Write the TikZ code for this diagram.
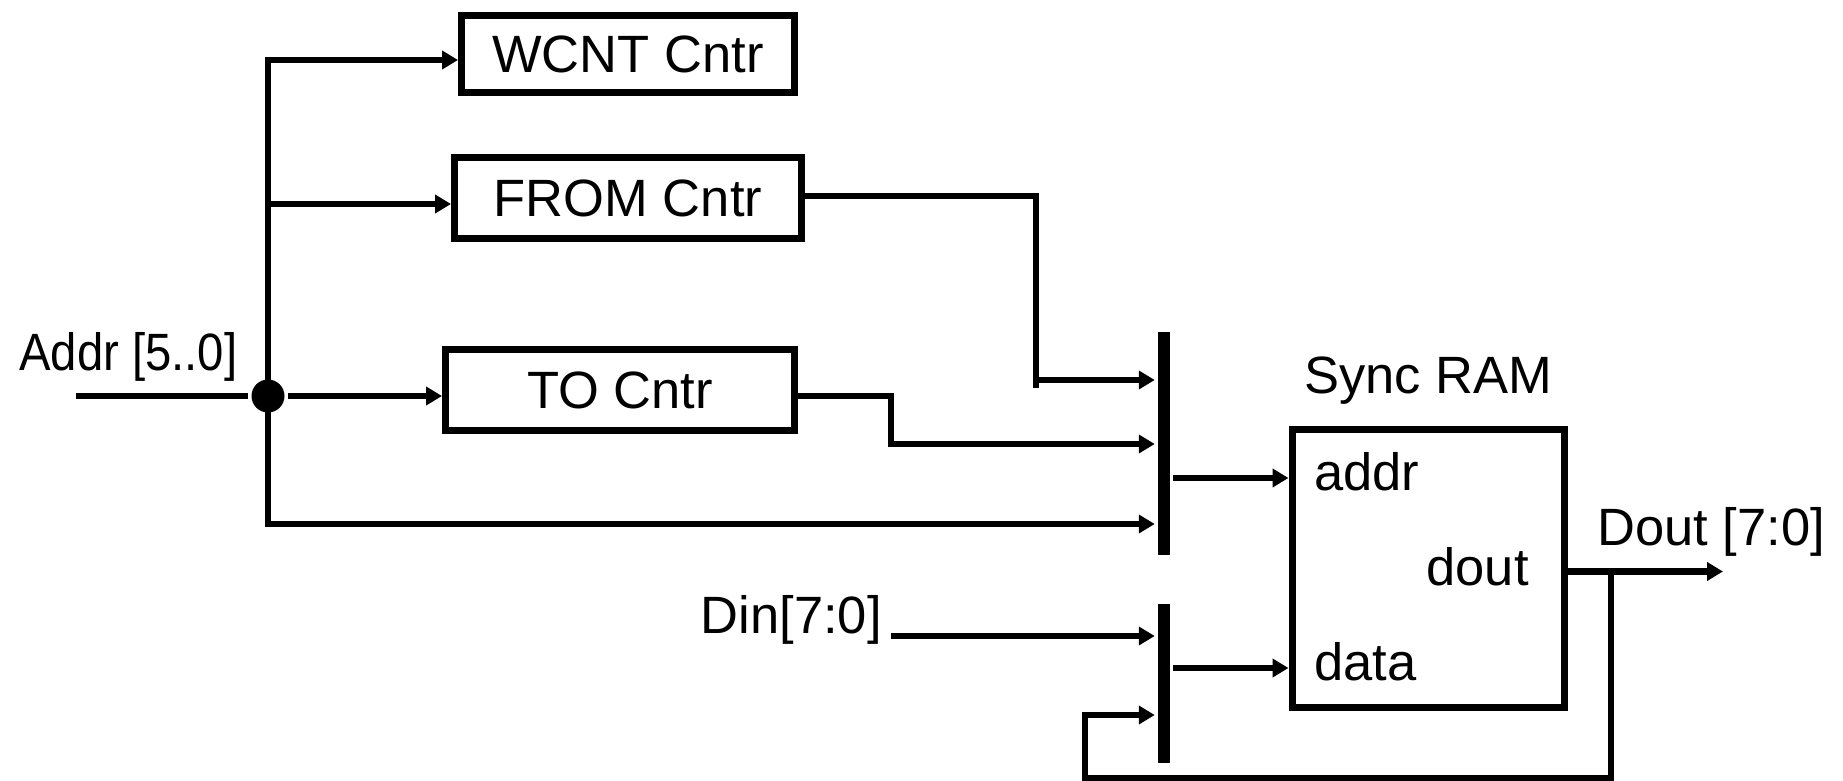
\documentclass[tikz,border=0pt]{standalone}
\usepackage{fontspec}
\setmainfont{Liberation Sans}
\usepackage{tikz}
\usetikzlibrary{positioning, arrows.meta, calc}

\begin{document}
\begin{tikzpicture}[x=1pt,y=-1pt,line width=6.5pt,
  >={Triangle[length=16pt,width=18pt]},
  every node/.style={font=\fontsize{52.5}{62}\selectfont,inner sep=0pt},
  cntr/.style={draw,line width=7pt,minimum height=81pt},
  bus/.style={fill=black,minimum width=12pt}]
  \useasboundingbox (0,0) rectangle (1843,781);
  % counters
  \node[cntr,minimum width=333pt,minimum height=77pt] (W) at (628,54) {WCNT Cntr};
  \node[cntr,minimum width=347pt] (F) at (628,198) {FROM Cntr};
  \node[cntr,minimum width=349pt] (T) at (620,390) {TO Cntr};
  \node[circle,fill,minimum size=33pt] (J) at (268,396) {};
  \node[anchor=base west,xscale=0.9,transform shape] (addr) at (16.5,370) {Addr [5..0]};
  % buses and ram
  \node[bus,minimum height=223pt] (BA) at (1164,443.5) {};
  \node[bus,minimum height=159pt] (BD) at (1164,683.5) {};
  \node[draw,line width=7pt,minimum width=272pt,minimum height=278pt] (RAM) at (1428,568) {};
  \node[anchor=base] (title) at (1428,393) {Sync RAM};
  \node[anchor=base west] (pa) at (1311,490) {addr};
  \node[anchor=base west] (pd) at (1311,680) {data};
  \node[anchor=base east] (po) at (1532,585) {dout};
  \node[anchor=base west] (dout) at (1594,545) {Dout [7:0]};
  \node[anchor=base east] (din) at (885,633) {Din[7:0]};
  \coordinate (ain) at (76,396);
  \coordinate (fk) at (1036,380);
  \coordinate (tk) at (891,444);
  \coordinate (bk) at (268,524);
  \coordinate (dk) at (891,636);
  \coordinate (tap) at (1611,571.5);
  \coordinate (qend) at (1723,571.5);
  \coordinate (fbl) at (1085,778);
  \coordinate (fbt) at (1085,715);
  % wires
  \draw (ain) -- (J);
  \draw[->] (J.center) |- ([yshift=-6pt]W.west);
  \draw[->] (J.center) -- ([yshift=-6pt]F.west -| J) -- ([yshift=-6pt]F.west);
  \draw[->] (J) -- (J -| T.west);
  \draw[->] (J.center) -- (bk) -- (bk -| BA.west);
  \draw ([yshift=2pt]F.east) -| ([yshift=-8pt]fk);
  \draw[->] (fk) -- (fk -| BA.west);
  \draw[->] ([yshift=-6pt]T.east) -| (tk) -- (tk -| BA.west);
  \draw[->] (BA.east |- 0,478) -- ([yshift=90pt]RAM.west);
  \draw[->] (dk) -- (dk -| BD.west);
  \draw[->] (BD.east |- 0,668) -- ([yshift=-100pt]RAM.west);
  \draw[->] ([yshift=-3.5pt]RAM.east) -- (qend);
  \draw[->] (tap) |- (fbl) -- (fbt) -- (fbt -| BD.west);
\end{tikzpicture}
\end{document}
